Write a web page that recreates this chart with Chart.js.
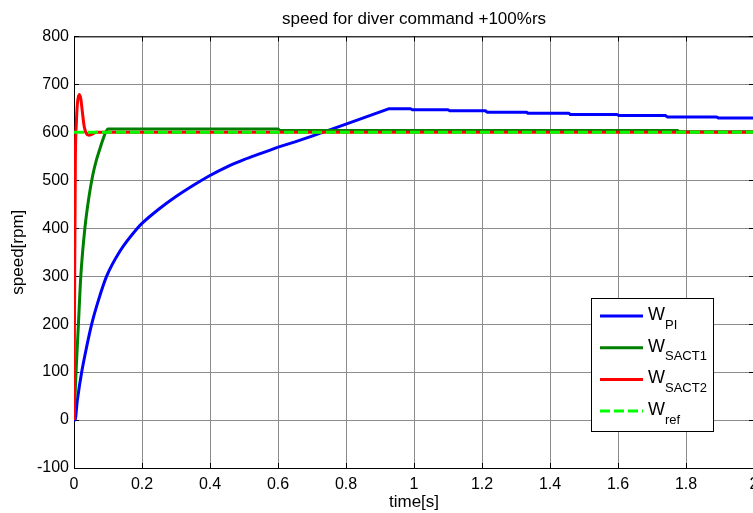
<!DOCTYPE html>
<html>
<head>
<meta charset="utf-8">
<script src="https://cdn.jsdelivr.net/npm/chart.js@4.4.0/dist/chart.umd.min.js"></script>
<style>
  html, body { margin: 0; padding: 0; background: #fff; overflow: hidden; }
  #wrap { width: 760px; height: 513px; }
</style>
</head>
<body>
<div id="wrap"><canvas id="speed-chart" width="760" height="513"></canvas></div>
<script>
    // Data
    const timePI = [0, 0.003, 0.01, 0.0226, 0.037, 0.052, 0.072, 0.096, 0.135, 0.184, 0.2, 0.25, 0.3, 0.35, 0.4, 0.45, 0.5, 0.55, 0.6, 0.65, 0.7, 0.8, 0.925, 0.99, 0.995, 1.1, 1.105, 1.21, 1.215, 1.33, 1.335, 1.455, 1.46, 1.597, 1.602, 1.74, 1.745, 1.89, 1.895, 2.0];
    const speedPI = [0, 0, 42, 100, 152, 200, 250, 300, 352, 398, 410, 440, 466, 489, 510, 528, 543, 556, 569, 580, 592, 617, 649, 649, 647, 647, 645, 645, 642, 642, 640, 640, 637, 637, 635, 635, 632, 632, 630, 630];
    const bendEndPI = 0.6; // smooth rise up to here, then straight ramp and steps

    const timeSACT1 = [0, 0.003, 0.006, 0.013, 0.02, 0.032, 0.045, 0.055, 0.065, 0.075, 0.085, 0.093, 0.1, 0.6, 0.605, 1.775, 1.78, 2.0];
    const speedSACT1 = [0, 50, 100, 200, 300, 400, 470, 510, 540, 563, 585, 600, 607, 607, 604, 604, 601, 601];

    const timeSACT2 = [0, 0.002, 0.004, 0.007, 0.01, 0.0153, 0.02, 0.025, 0.03, 0.036, 0.044, 0.055, 0.065, 2.0];
    const speedSACT2 = [0, 300, 540, 620, 660, 679, 670, 640, 612, 598, 594, 597, 600, 600];

    const timeRef = [0, 2];
    const speedRef = [600, 600];

    const xTicks = [0, 0.2, 0.4, 0.6, 0.8, 1, 1.2, 1.4, 1.6, 1.8, 2];
    const yTicks = [-100, 0, 100, 200, 300, 400, 500, 600, 700, 800];

    const legendNames = [['W', 'PI'], ['W', 'SACT1'], ['W', 'SACT2'], ['W', 'ref']];
    const seriesColors = ['#0000ff', '#008000', '#ff0000', '#00ff00'];

    const FONT = '"Liberation Sans", Arial, Helvetica, sans-serif';

    function toPoints(ts, vs) {
        return ts.map((t, i) => ({ x: t, y: vs[i] }));
    }

    const pointsPI = toPoints(timePI, speedPI);
    const pointsPIcurve = pointsPI.filter(p => p.x <= bendEndPI);
    const pointsPIramp = pointsPI.filter(p => p.x >= bendEndPI);

    // frame, inward ticks and legend like the matlab figure
    const matlabFrame = {
        id: 'matlabFrame',
        beforeDatasetsDraw(chart) {
            const ctx = chart.ctx;
            const a = chart.chartArea;
            const xs = chart.scales.x, ys = chart.scales.y;
            ctx.save();
            ctx.strokeStyle = '#000';
            ctx.lineWidth = 1;
            ctx.beginPath();
            ctx.moveTo(a.left, a.top + 0.5);
            ctx.lineTo(a.right, a.top + 0.5);
            ctx.moveTo(a.right - 0.5, a.top);
            ctx.lineTo(a.right - 0.5, a.bottom);
            xTicks.forEach(v => {
                const px = Math.round(xs.getPixelForValue(v)) + 0.5;
                ctx.moveTo(px, a.bottom);
                ctx.lineTo(px, a.bottom - 5);
                ctx.moveTo(px, a.top);
                ctx.lineTo(px, a.top + 5);
            });
            yTicks.forEach(v => {
                const py = Math.round(ys.getPixelForValue(v)) + 0.5;
                ctx.moveTo(a.left, py);
                ctx.lineTo(a.left + 5, py);
                ctx.moveTo(a.right, py);
                ctx.lineTo(a.right - 5, py);
            });
            ctx.stroke();
            ctx.restore();
        },
        afterDatasetsDraw(chart) {
            const ctx = chart.ctx;
            const a = chart.chartArea;
            const w = 122, h = 133;
            const left = a.right - 41 - w;
            const top = a.bottom - 37 - h;
            ctx.save();
            ctx.fillStyle = '#fff';
            ctx.fillRect(left + 0.5, top + 0.5, w, h);
            ctx.strokeStyle = '#000';
            ctx.lineWidth = 1;
            ctx.strokeRect(left + 0.5, top + 0.5, w, h);
            legendNames.forEach((name, i) => {
                const y = top + 18 + i * 31.7;
                ctx.strokeStyle = seriesColors[i];
                ctx.lineWidth = 3;
                ctx.setLineDash(i === 3 ? [10, 4] : []);
                ctx.beginPath();
                ctx.moveTo(left + 9, y);
                ctx.lineTo(left + 52, y);
                ctx.stroke();
                ctx.setLineDash([]);
                ctx.fillStyle = '#000';
                ctx.textBaseline = 'alphabetic';
                ctx.textAlign = 'left';
                ctx.font = '18px ' + FONT;
                ctx.fillText(name[0], left + 57, y + 4);
                const wW = ctx.measureText(name[0]).width;
                ctx.font = '13px ' + FONT;
                ctx.fillText(name[1], left + 57 + wW, y + 12.5);
            });
            ctx.restore();
        }
    };

    window.onload = function() {
        const ctx = document.getElementById('speed-chart').getContext('2d');
        new Chart(ctx, {
            type: 'line',
            data: {
                datasets: [
                    { label: 'W_PI', data: pointsPIcurve, borderColor: seriesColors[0], borderWidth: 3, cubicInterpolationMode: 'monotone', order: 3 },
                    { label: 'W_PI ramp', data: pointsPIramp, borderColor: seriesColors[0], borderWidth: 3, order: 3 },
                    { label: 'W_SACT1', data: toPoints(timeSACT1, speedSACT1), borderColor: seriesColors[1], borderWidth: 3, cubicInterpolationMode: 'monotone', order: 2 },
                    { label: 'W_SACT2', data: toPoints(timeSACT2, speedSACT2), borderColor: seriesColors[2], borderWidth: 3, cubicInterpolationMode: 'monotone', order: 1 },
                    { label: 'W_ref', data: toPoints(timeRef, speedRef), borderColor: seriesColors[3], borderWidth: 3, borderDash: [10, 4], order: 0 }
                ]
            },
            options: {
                responsive: false,
                devicePixelRatio: 1,
                animation: false,
                elements: {
                    point: { radius: 0, hoverRadius: 0 },
                    line: { tension: 0, fill: false, borderCapStyle: 'butt', borderJoinStyle: 'round' }
                },
                layout: { padding: { top: 0, left: 0, right: 6, bottom: 0 } },
                plugins: {
                    legend: { display: false },
                    tooltip: { enabled: false },
                    title: {
                        display: true,
                        fullSize: false,
                        text: 'speed for diver command +100%rs',
                        color: '#000',
                        font: { family: FONT, size: 17, weight: 'normal' },
                        padding: { top: 9, bottom: 7 }
                    }
                },
                scales: {
                    x: {
                        type: 'linear',
                        min: 0,
                        max: 2,
                        afterBuildTicks: scale => { scale.ticks = xTicks.map(v => ({ value: v })); },
                        afterFit: scale => {
                            scale.height = 45;
                            scale.paddingLeft = 0;
                            scale.paddingRight = 0;
                        },
                        ticks: {
                            color: '#000',
                            font: { family: FONT, size: 16 },
                            padding: 7,
                            maxRotation: 0,
                            callback: v => String(Number(v.toFixed(1)))
                        },
                        grid: { color: '#8c8c8c', lineWidth: 1, drawTicks: false },
                        border: { display: true, color: '#000', width: 1 },
                        title: {
                            display: true,
                            text: 'time[s]',
                            color: '#000',
                            font: { family: FONT, size: 17 },
                            padding: { top: 0, bottom: 0 }
                        }
                    },
                    y: {
                        type: 'linear',
                        min: -100,
                        max: 800,
                        afterBuildTicks: scale => { scale.ticks = yTicks.map(v => ({ value: v })); },
                        afterFit: scale => { scale.width = 74; },
                        ticks: {
                            color: '#000',
                            font: { family: FONT, size: 16 },
                            padding: 5
                        },
                        grid: { color: '#8c8c8c', lineWidth: 1, drawTicks: false },
                        border: { display: true, color: '#000', width: 1 },
                        title: {
                            display: true,
                            text: 'speed[rpm]',
                            color: '#000',
                            font: { family: FONT, size: 17 },
                            padding: { top: 8, bottom: 0 }
                        }
                    }
                }
            },
            plugins: [matlabFrame]
        });
    };
</script>
</body>
</html>
